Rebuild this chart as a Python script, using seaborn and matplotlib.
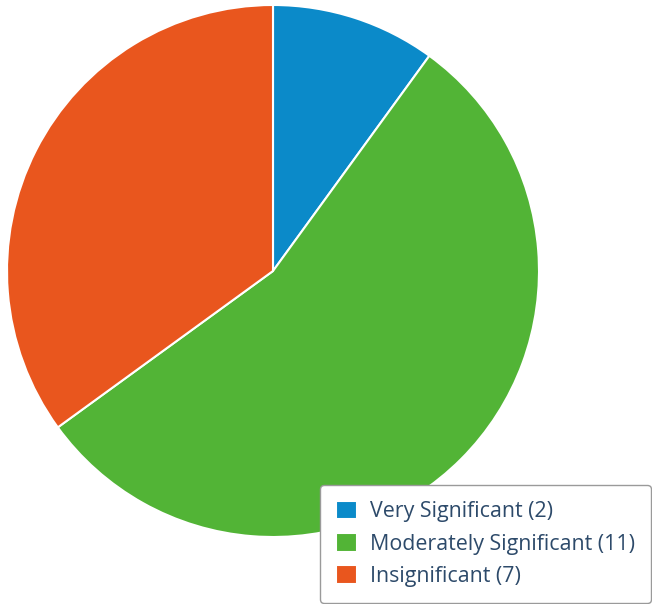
import matplotlib
matplotlib.use("Agg")
import matplotlib.pyplot as plt
import seaborn as sns

categories = ["Very Significant", "Moderately Significant", "Insignificant"]
values = [2, 11, 7]
colors = ["#0b8ac9", "#52b436", "#e9561e"]

sns.set_style("white")
plt.rcParams['font.family'] = ['Open Sans', 'DejaVu Sans']

fig = plt.figure(figsize=(6.52, 6.04), dpi=100)
ax = fig.add_axes([7/652, 67/604, 532/652, 532/604])
wedges, _ = ax.pie(values, colors=colors, startangle=90, counterclock=False,
                   radius=1, wedgeprops=dict(edgecolor="white", linewidth=1.5))
ax.set_xlim(-1, 1)
ax.set_ylim(-1, 1)
ax.set_aspect("equal")
ax.axis("off")

labels = [f"{c} ({v})" for c, v in zip(categories, values)]
leg = fig.legend(wedges, labels, loc="lower right",
                 bbox_to_anchor=(651/652, 1/604), fontsize=15.4,
                 handlelength=1.0, handleheight=0.95, labelspacing=0.5,
                 borderpad=0.75, borderaxespad=0, handletextpad=0.6,
                 fancybox=True, edgecolor="#9a9a9a", framealpha=1)
leg.get_frame().set_linewidth(1.0)
for t in leg.get_texts():
    t.set_color("#2d4a6a")

fig.savefig("out.png", dpi=100)
